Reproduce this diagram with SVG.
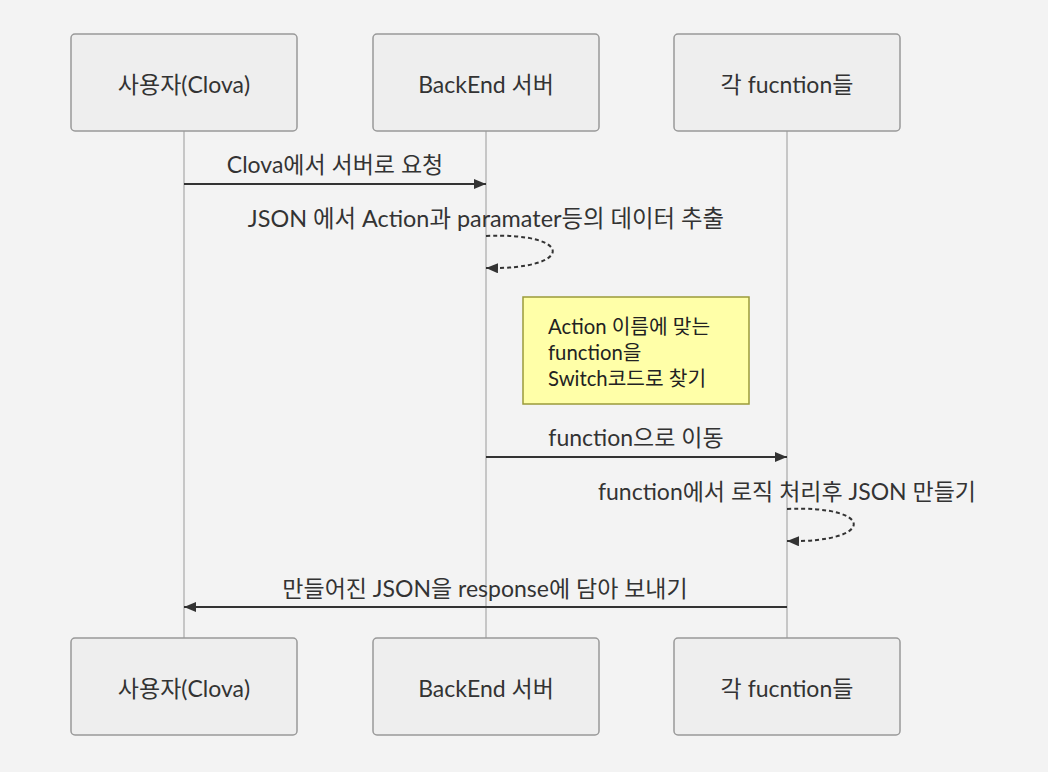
<svg xmlns="http://www.w3.org/2000/svg" width="1048" height="772" viewBox="0 0 1048 772">
<style>
.bg{fill:#f3f3f3}
.actor{fill:#eeeeee;stroke:#999999;stroke-width:1.5}
.life{stroke:#999999;stroke-width:1;fill:none}
.t{font-family:Lato,"Noto Sans CJK KR",sans-serif;font-size:23px;fill:#333333;text-anchor:middle}
.msg{stroke:#333333;stroke-width:2;fill:none}
.dash{stroke:#333333;stroke-width:2;fill:none;stroke-dasharray:4 3}
.note{fill:#ffffa8;stroke:#9b9b3a;stroke-width:1.5}
.nt{font-family:Lato,"Noto Sans CJK KR",sans-serif;font-size:20.3px;fill:#222222}
</style>
<defs>
<marker id="ah" viewBox="0 0 12 10" refX="12" refY="5" markerWidth="12" markerHeight="10" markerUnits="userSpaceOnUse" orient="auto">
<path d="M0,0 L12,5 L0,10 z" fill="#333333"/>
</marker>
</defs>
<rect class="bg" x="0" y="0" width="1048" height="772"/>
<g id="lifelines">
<line class="life" x1="184" y1="131" x2="184" y2="638"/>
<line class="life" x1="486" y1="131" x2="486" y2="638"/>
<line class="life" x1="787" y1="131" x2="787" y2="638"/>
</g>
<g id="actor-user-top"><rect class="actor" x="71" y="34" width="226" height="97" rx="4"/><text class="t" x="184" y="93">사용자(Clova)</text></g>
<g id="actor-backend-top"><rect class="actor" x="373" y="34" width="226" height="97" rx="4"/><text class="t" x="486" y="93">BackEnd 서버</text></g>
<g id="actor-func-top"><rect class="actor" x="674" y="34" width="226" height="97" rx="4"/><text class="t" x="787" y="93">각 fucntion들</text></g>
<g id="actor-user-bottom"><rect class="actor" x="71" y="638" width="226" height="97" rx="4"/><text class="t" x="184" y="697">사용자(Clova)</text></g>
<g id="actor-backend-bottom"><rect class="actor" x="373" y="638" width="226" height="97" rx="4"/><text class="t" x="486" y="697">BackEnd 서버</text></g>
<g id="actor-func-bottom"><rect class="actor" x="674" y="638" width="226" height="97" rx="4"/><text class="t" x="787" y="697">각 fucntion들</text></g>
<g id="note">
<rect class="note" x="523" y="297" width="226" height="107"/>
<text class="nt" x="548" y="334">Action 이름에 맞는</text>
<text class="nt" x="548" y="360">function을</text>
<text class="nt" x="548" y="386">Switch코드로 찾기</text>
</g>
<g id="connectors">
<line class="msg" x1="184" y1="184" x2="486" y2="184" marker-end="url(#ah)"/>
<text class="t" x="335" y="173">Clova에서 서버로 요청</text>
<path class="dash" d="M486,236 C575,232 575,270 486,268" marker-end="url(#ah)"/>
<text class="t" x="486" y="227" style="font-size:23.4px">JSON 에서 Action과 paramater등의 데이터 추출</text>
<line class="msg" x1="486" y1="457" x2="787" y2="457" marker-end="url(#ah)"/>
<text class="t" x="636" y="446">function으로 이동</text>
<path class="dash" d="M787,509 C876,505 876,543 787,541" marker-end="url(#ah)"/>
<text class="t" x="787" y="500">function에서 로직 처리후 JSON 만들기</text>
<line class="msg" x1="787" y1="607" x2="184" y2="607" marker-end="url(#ah)"/>
<text class="t" x="485" y="597">만들어진 JSON을 response에 담아 보내기</text>
</g>
</svg>
